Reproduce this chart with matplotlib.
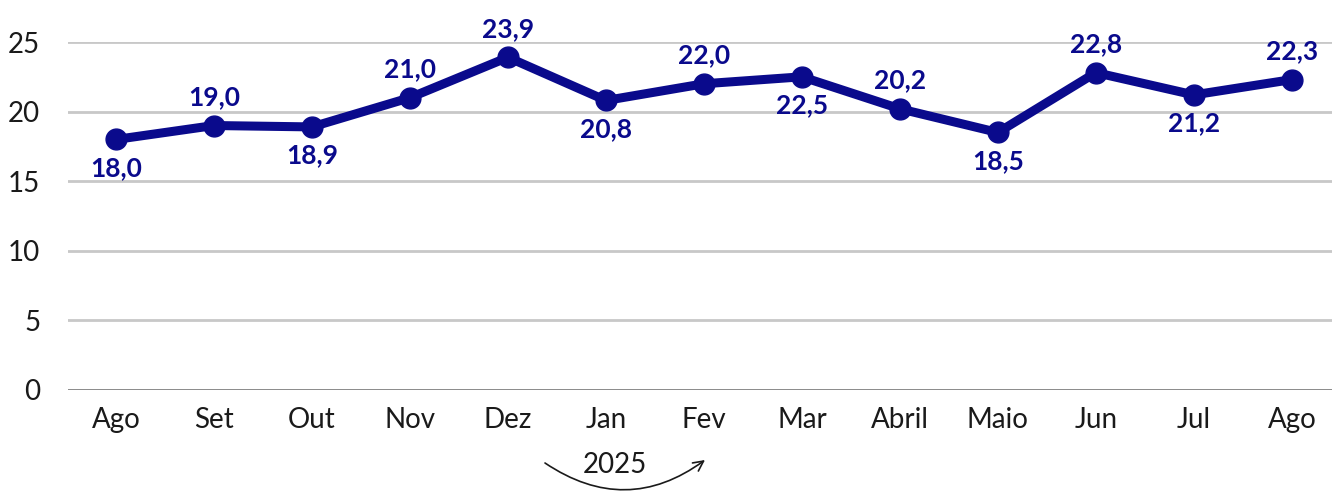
import matplotlib
matplotlib.use("Agg")
import matplotlib.pyplot as plt

categories = ["Ago", "Set", "Out", "Nov", "Dez", "Jan", "Fev", "Mar", "Abril", "Maio", "Jun", "Jul", "Ago"]
values = [18.0, 19.0, 18.9, 21.0, 23.9, 20.8, 22.0, 22.5, 20.2, 18.5, 22.8, 21.2, 22.3]
label_pos = ["below", "above", "below", "above", "above", "below", "above", "below", "above", "below", "above", "below", "above"]
yticks = [0, 5, 10, 15, 20, 25]
year_label = "2025"

navy = "#0a0a8c"
plt.rcParams['font.family'] = ['Lato', 'DejaVu Sans']

fig = plt.figure(figsize=(13.32, 4.92), dpi=100)
ax = fig.add_axes([68/1332, 1-390/492, 1-68/1332, (390-42)/492])

x = list(range(len(categories)))
ax.plot(x, values, color=navy, lw=6.5, marker="o", ms=15, zorder=3, solid_capstyle="round")

for xi, v, p in zip(x, values, label_pos):
    txt = f"{v:.1f}".replace(".", ",")
    off = 12 if p == "above" else -12
    ax.annotate(txt, (xi, v), xytext=(0, off), textcoords="offset points",
                ha="center", va="bottom" if p == "above" else "top",
                fontsize=19, fontweight="bold", color=navy, clip_on=False, zorder=4)

ax.set_ylim(0, 25)
ax.set_xlim(-0.49, 12.41)
ax.set_yticks(yticks)
ax.set_yticklabels([str(t) for t in yticks])
ax.set_xticks(x)
ax.set_xticklabels(categories)
ax.tick_params(axis="both", length=0, labelsize=20, colors="#1a1a1a")
ax.tick_params(axis="y", pad=20)
ax.tick_params(axis="x", pad=12)
for t in yticks[1:]:
    ax.axhline(t, color="#c8c8c8", lw=2, zorder=1)
ax.axhline(0, color="#808080", lw=2, zorder=1)
for s in ax.spines.values():
    s.set_visible(False)

fig.text(615/1332, 1-465/492, year_label, ha="center", va="center", fontsize=20, color="#1a1a1a")
ax.annotate("", xy=(705, 32), xycoords="figure pixels", xytext=(545, 29), textcoords="figure pixels",
            arrowprops=dict(arrowstyle="->", color="#1a1a1a", lw=1.2, connectionstyle="arc3,rad=0.35",
                            shrinkA=0, shrinkB=0, mutation_scale=18))

fig.savefig("out.png", dpi=100)
